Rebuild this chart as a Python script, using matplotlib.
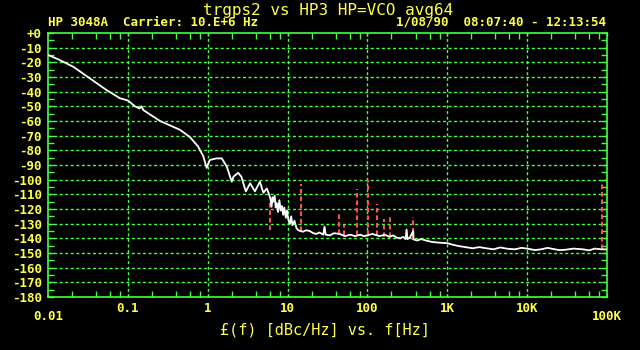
import matplotlib
matplotlib.use("Agg")
import matplotlib.pyplot as plt
from matplotlib.ticker import FixedLocator, NullFormatter

# ---- data ----
trace_freq = [0.01, 0.0135, 0.0207, 0.0336, 0.0544, 0.0797, 0.1, 0.123, 0.14, 0.148,
              0.156, 0.208, 0.253, 0.337, 0.449, 0.6, 0.76, 0.88, 0.97, 1.06,
              1.28, 1.5, 1.73, 2.0, 2.1, 2.4, 2.64, 3.0, 3.4, 3.9,
              4.5, 4.98, 5.5, 5.9, 6.1, 6.3, 6.5, 6.6, 6.9, 7.1,
              7.3, 7.6, 7.9, 8.2, 8.5, 8.8, 9.1, 9.5, 9.8, 10.2,
              10.7, 11.1, 11.5, 12.2, 12.9, 13.6, 15.6, 17, 18.9, 21,
              23, 25, 28, 29, 30, 33.9, 38, 45, 52, 61,
              70, 81.6, 90, 100, 115, 142, 165, 190, 210, 233,
              257, 280, 300, 309, 318, 340, 375, 378, 420, 470,
              550, 650, 810, 1000, 1200, 1400, 1700, 2070, 2500, 3100,
              3800, 4600, 5500, 7000, 8500, 10000, 12500, 15000, 18000, 20000,
              25000, 30000, 38000, 50000, 60000, 70000, 85000, 100000]
trace_db = [-15, -18, -23, -31, -39, -44.5, -46, -50, -51.5, -50,
            -52.5, -57, -60, -63, -66, -71, -77.5, -84, -92, -86.6,
            -85.5, -85.5, -91, -101.4, -98, -95.3, -98, -108, -102.5, -108,
            -101.4, -109, -106, -110.5, -113, -118.5, -112, -115, -111, -119,
            -116, -122, -114, -121, -118, -124, -119, -126, -121, -127,
            -130, -125, -131, -128, -133, -134.5, -135.5, -134.5, -135, -136.5,
            -137, -136, -137.5, -132, -137.5, -138, -136.5, -137, -138.5, -137.5,
            -138.5, -137.5, -138.5, -138, -137, -138.5, -137.5, -139, -138, -139.5,
            -140, -139, -140.5, -134, -140.5, -139.5, -135, -140.7, -141.5, -140.5,
            -141.6, -142.5, -143, -143.3, -144.5, -145.3, -146, -146.8, -146, -146.8,
            -147.5, -146.2, -147, -147.5, -146.5, -147, -148, -147.5, -146.5, -147,
            -148, -147.8, -147, -147.5, -148.2, -147, -147.5, -147.5]

spur_freq = [6.0, 14.7, 44, 50.4, 73, 102, 131, 163, 192, 368, 87000]
spur_top = [-115, -103, -122, -131, -106.5, -100, -116.5, -127, -125, -125.5, -101]
spur_base = [-134, -135, -137, -138, -138, -138, -138, -139, -139, -141, -147]

xtick_vals = [0.01, 0.1, 1, 10, 100, 1000, 10000, 100000]
xtick_labels = ["0.01", "0.1", "1", "10", "100", "1K", "10K", "100K"]
ytick_vals = list(range(0, -181, -10))
ytick_labels = ["+0"] + [str(v) for v in range(-10, -181, -10)]

title = "trgps2 vs HP3 HP=VCO avg64"
sub_left = "HP 3048A  Carrier: 10.E+6 Hz"
sub_right = "1/08/90  08:07:40 - 12:13:54"
xlabel = "£(f) [dBc/Hz] vs. f[Hz]"

YEL = "#ffff4a"
GRN = "#44ff44"
RED = "#ff5050"
MONO = "DejaVu Sans Mono"

fig = plt.figure(figsize=(6.4, 3.5), dpi=100, facecolor="black")
ax = fig.add_axes([48/640, 1-297/350, (607-48)/640, (297-33)/350], facecolor="black")

ax.set_xscale("log")
ax.set_xlim(0.01, 100000)
ax.set_ylim(-180, 0)

# grid
for v in ytick_vals[1:-1]:
    ax.axhline(v, color=GRN, lw=1.0, dashes=(2.2, 1.8), zorder=1)
for v in xtick_vals[1:-1]:
    ax.axvline(v, color=GRN, lw=1.0, dashes=(2.2, 1.8), zorder=1)

# spurs
ax.vlines(spur_freq, spur_base, spur_top, colors=RED, lw=1.5,
          linestyles=(0, (2.2, 1.4)), zorder=3)
# trace
ax.plot(trace_freq, trace_db, color="white", lw=1.3, zorder=4)

for s in ax.spines.values():
    s.set_color(GRN)
    s.set_linewidth(1.2)

ax.set_yticks(ytick_vals)
ax.set_yticklabels(ytick_labels)
ax.yaxis.set_minor_locator(FixedLocator(list(range(-175, 0, 10))))
ax.tick_params(axis="y", which="both", direction="in", left=True, right=True,
               length=4.5, width=1.0, color=GRN, labelcolor=YEL, pad=4.5,
               labelsize=9)
ax.set_xticks(xtick_vals)
ax.set_xticklabels(xtick_labels)
minors = []
for d in xtick_vals[:-1]:
    for m in (2, 4, 6, 8):
        minors.append(d * m)
ax.xaxis.set_minor_locator(FixedLocator(minors))
ax.xaxis.set_minor_formatter(NullFormatter())
ax.tick_params(axis="x", which="minor", direction="in", top=True, bottom=True,
               length=4, width=1.0, color=GRN)
ax.tick_params(axis="x", which="major", direction="in", top=True, bottom=True,
               length=2, width=1.0, color=GRN, labelcolor=YEL, labelsize=9, pad=3.5)
for lab in ax.get_xticklabels() + ax.get_yticklabels():
    lab.set_fontfamily(MONO)
    lab.set_fontweight("bold")
ticks = ax.xaxis.get_major_ticks()
ticks[0].set_pad(9.5)
ticks[-1].set_pad(9.5)

fig.text(328/640, 1-10/350, title, color=YEL, fontsize=11.5, family=MONO,
         ha="center", va="center")
fig.text(48/640, 1-22/350, sub_left, color=YEL, fontsize=9, family=MONO,
         fontweight="bold", ha="left", va="center")
fig.text(606/640, 1-22/350, sub_right, color=YEL, fontsize=9, family=MONO,
         fontweight="bold", ha="right", va="center")
fig.text(325/640, 1-330/350, xlabel, color=YEL, fontsize=11, family=MONO,
         ha="center", va="center")

fig.savefig("out.png", dpi=100, facecolor="black")
